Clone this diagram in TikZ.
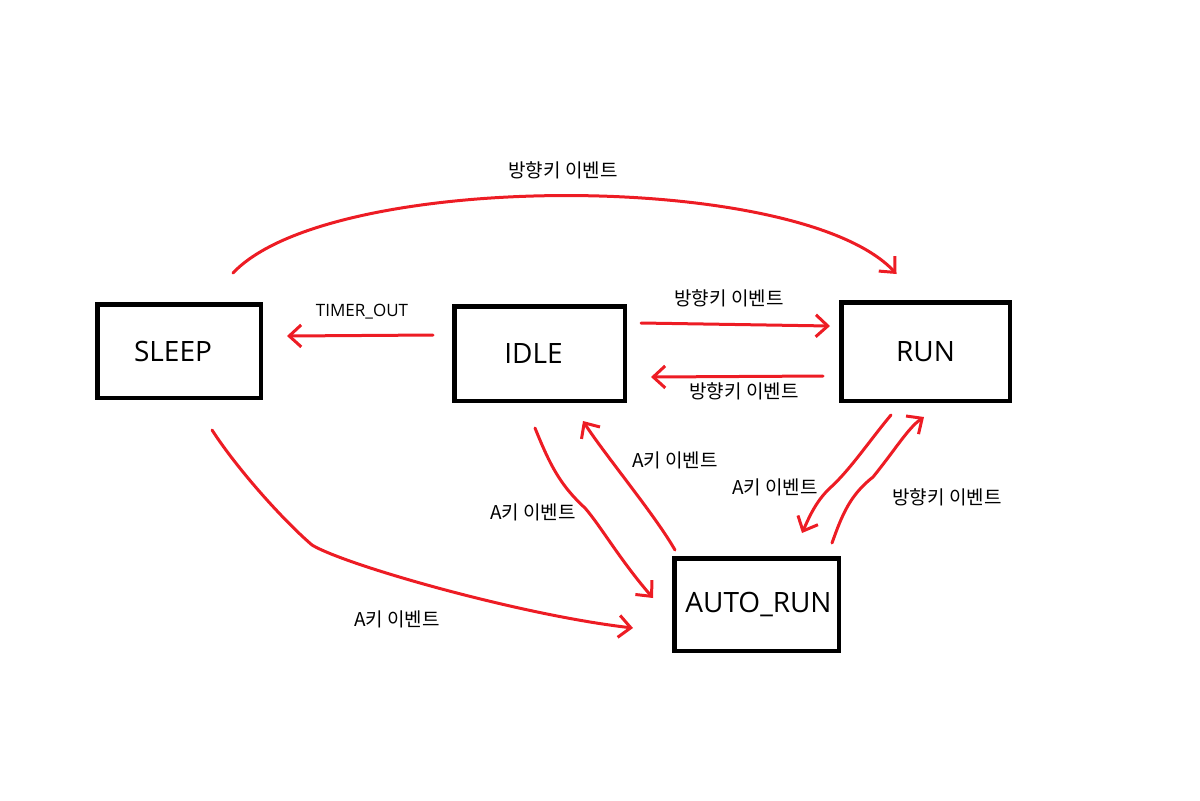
\documentclass[tikz,border=0pt]{standalone}
\usepackage{fontspec}
\setmainfont{Open Sans}
\newfontfamily\cjk{Noto Sans CJK KR}
\usetikzlibrary{arrows.meta,calc}
\definecolor{pred}{RGB}{237,28,36}
\tikzset{
  state/.style={draw=black, line width=2.25pt, inner sep=0pt, font=\fontsize{14}{16}\selectfont},
  redarrow/.style={draw=pred, line width=1.5pt, line cap=round, line join=round,
    -{Straight Barb[length=6pt,width=11pt]}},
  lbl/.style={inner sep=1pt, font=\cjk\fontsize{9.5}{11}\selectfont},
  lbllat/.style={inner sep=1pt, font=\fontsize{8.5}{10}\selectfont},
}
\begin{document}
\begin{tikzpicture}[x=0.5pt,y=-0.5pt]
\useasboundingbox (0,0) rectangle (1200,800);
% states
\node[state, minimum width=81.75pt, minimum height=46.75pt] (sleep) at (179,351) {\hspace*{-6pt}SLEEP};
\node[state, minimum width=85.25pt, minimum height=47.25pt] (idle) at (539.5,353.5) {\hspace*{-6pt}IDLE};
\node[state, minimum width=84.25pt, minimum height=49.25pt] (run) at (925.5,351.5) {\raisebox{-2.25pt}{RUN}};
\node[state, minimum width=82.25pt, minimum height=46.25pt] (auto) at (756.5,604.5) {\hspace*{2pt}AUTO\_RUN};
% connectors
\draw[redarrow] ($(sleep.north)+(54,-29)$) .. controls (330,170) and (800,170) .. ($(run.north)+(-29,-26)$);
\draw[redarrow] ($(idle.west)+(-19,-18.5)$) -- ($(sleep.east)+(24,-15)$);
\draw[redarrow] ($(idle.east)+(14,-30.5)$) -- ($(run.west)+(-9,-25.5)$);
\draw[redarrow] ($(run.west)+(-16,24.5)$) -- ($(idle.east)+(24,23.5)$);
\draw[redarrow] ($(sleep.south)+(33,30)$) .. controls (238,470) and (283,520) .. (312,545)
   .. controls (345,565) and (520,615) .. ($(auto.west)+(-39,23.5)$);
\draw[redarrow] ($(idle.south)+(-4.5,25)$) .. controls (550,465) and (560,485) .. (585,508)
   .. controls (600,525) and (620,560) .. ($(auto.west)+(-19,-6.5)$);
\draw[redarrow] ($(auto.north)+(-81.5,-6)$) .. controls (655,515) and (605,455) .. ($(idle.south)+(43.5,18)$);
\draw[redarrow] ($(run.south)+(-34.5,12)$) .. controls (870,440) and (850,470) .. (830,488)
   .. controls (815,502) and (808,520) .. ($(auto.north)+(45.5,-23)$);
\draw[redarrow] ($(auto.north)+(75.5,-13)$) .. controls (842,515) and (850,495) .. (873,477)
   .. controls (895,450) and (908,428) .. ($(run.south)+(-1.5,14)$);
% labels
\node[lbl] (l1) at (563,170) {방향키 이벤트};
\node[lbllat] (l2) at (362,312) {TIMER\_OUT};
\node[lbl] (l3) at (729,298) {방향키 이벤트};
\node[lbl] (l4) at (744,391) {방향키 이벤트};
\node[lbl] (l5) at (397,619) {A키 이벤트};
\node[lbl] (l6) at (533,512) {A키 이벤트};
\node[lbl] (l7) at (675,460) {A키 이벤트};
\node[lbl] (l8) at (775,487) {A키 이벤트};
\node[lbl] (l9) at (947,497) {방향키 이벤트};
\end{tikzpicture}
\end{document}
